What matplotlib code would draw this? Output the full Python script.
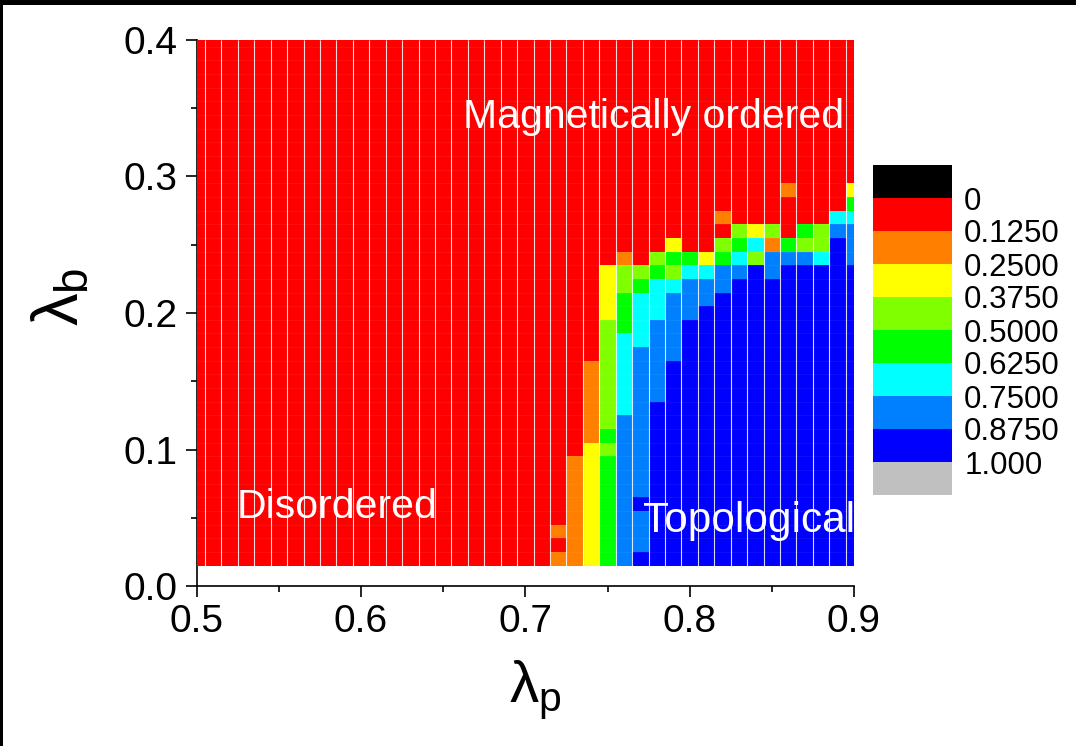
import numpy as np
import matplotlib
matplotlib.use("Agg")
import matplotlib.pyplot as plt
from matplotlib.colors import ListedColormap, BoundaryNorm
from matplotlib.patches import Rectangle
from matplotlib.ticker import MultipleLocator, FormatStrFormatter

plt.rcParams['font.family'] = ['Liberation Sans', 'DejaVu Sans']
plt.rcParams['mathtext.fontset'] = 'custom'
plt.rcParams['mathtext.rm'] = 'Liberation Sans'
plt.rcParams['mathtext.it'] = 'Liberation Sans'
plt.rcParams['mathtext.bf'] = 'Liberation Sans:bold'

# grid of the phase diagram
lambda_p = [0.50, 0.51, 0.52, 0.53, 0.54, 0.55, 0.56, 0.57, 0.58, 0.59,
            0.60, 0.61, 0.62, 0.63, 0.64, 0.65, 0.66, 0.67, 0.68, 0.69,
            0.70, 0.71, 0.72, 0.73, 0.74, 0.75, 0.76, 0.77, 0.78, 0.79,
            0.80, 0.81, 0.82, 0.83, 0.84, 0.85, 0.86, 0.87, 0.88, 0.89, 0.90]
lambda_b = [0.02, 0.03, 0.04, 0.05, 0.06, 0.07, 0.08, 0.09, 0.10, 0.11,
            0.12, 0.13, 0.14, 0.15, 0.16, 0.17, 0.18, 0.19, 0.20, 0.21,
            0.22, 0.23, 0.24, 0.25, 0.26, 0.27, 0.28, 0.29, 0.30, 0.31,
            0.32, 0.33, 0.34, 0.35, 0.36, 0.37, 0.38, 0.39, 0.40]

# colour scale
levels = [0.0, 0.125, 0.25, 0.375, 0.5, 0.625, 0.75, 0.875, 1.0]
level_labels = ['0', '0.1250', '0.2500', '0.3750', '0.5000',
                '0.6250', '0.7500', '0.8750', '1.000']
band_colors = ['#ff0000', '#ff8000', '#ffff00', '#80ff00', '#00ff00',
               '#00ffff', '#0080ff', '#0000ff']
# representative value of each colour band (red ... blue)
band_values = [0.0625, 0.1875, 0.3125, 0.4375, 0.5625, 0.6875, 0.8125, 0.9375]

# columns lambda_p = 0.50 ... 0.71 are ordered (band 0) at every lambda_b.
# For lambda_p = 0.72 ... 0.90: runs of (band, number of rows) from the
# bottom row upward; rows above the listed runs are band 0.
transition_start = 0.72
transition_runs = [
    [(1, 1), (0, 1), (1, 1)],                                   # 0.72
    [(1, 8)],                                                   # 0.73
    [(2, 9), (1, 6)],                                           # 0.74
    [(4, 8), (3, 1), (4, 1), (3, 8), (2, 4)],                   # 0.75
    [(6, 11), (5, 6), (4, 3), (3, 2), (1, 1)],                  # 0.76
    [(7, 1), (6, 3), (7, 1), (6, 11), (5, 4), (4, 1), (3, 1)],  # 0.77
    [(7, 12), (6, 6), (5, 3), (4, 1), (3, 1)],                  # 0.78
    [(7, 15), (6, 5), (5, 1), (3, 1), (4, 1), (2, 1)],          # 0.79
    [(7, 18), (6, 3), (5, 1), (4, 1)],                          # 0.80
    [(7, 19), (6, 2), (5, 1), (2, 1)],                          # 0.81
    [(7, 20), (6, 2), (4, 1), (3, 1), (0, 1), (1, 1)],          # 0.82
    [(7, 21), (6, 1), (5, 1), (4, 1), (3, 1)],                  # 0.83
    [(7, 22), (3, 1), (5, 1), (2, 1)],                          # 0.84
    [(7, 21), (6, 2), (1, 1), (3, 1)],                          # 0.85
    [(7, 22), (6, 1), (4, 1), (0, 3), (1, 1)],                  # 0.86
    [(7, 22), (6, 1), (3, 1), (4, 1)],                          # 0.87
    [(7, 22), (5, 1), (3, 2)],                                  # 0.88
    [(7, 24), (6, 1), (5, 1)],                                  # 0.89
    [(7, 22), (6, 3), (5, 1), (4, 1), (2, 1)],                  # 0.90
]

# assemble the value grid (rows: lambda_b, columns: lambda_p)
xp = np.array(lambda_p)
yb = np.array(lambda_b)
Z = np.full((len(yb), len(xp)), band_values[0])
first_col = int(np.argmin(np.abs(xp - transition_start)))
for j, runs in enumerate(transition_runs):
    row = 0
    for band, count in runs:
        Z[row:row + count, first_col + j] = band_values[band]
        row += count

x_edges = np.append(xp - 0.005, xp[-1] + 0.005)
y_edges = np.append(yb - 0.005, yb[-1] + 0.005)

cmap = ListedColormap(band_colors)
cmap.set_under('#000000')
cmap.set_over('#c0c0c0')
norm = BoundaryNorm(levels, cmap.N)

W, H = 1076, 746
fig = plt.figure(figsize=(W / 100, H / 100), dpi=100)
ax = fig.add_axes([196.7 / W, 1 - 586 / H, (854 - 196.7) / W, (586 - 40) / H])

mesh = ax.pcolormesh(x_edges, y_edges, Z, cmap=cmap, norm=norm,
                     shading='flat', zorder=3, edgecolors='none')
# thin white separators between columns
ax.vlines(x_edges[1:-1], y_edges[0], 0.4, colors='white', linewidth=0.8,
          alpha=0.85, zorder=4)
ax.hlines(y_edges[1:-1], 0.5, 0.9, colors='white', linewidth=0.5,
          alpha=0.08, zorder=4)

ax.set_xlim(0.5, 0.9)
ax.set_ylim(0.0, 0.4)
ax.xaxis.set_major_locator(MultipleLocator(0.1))
ax.xaxis.set_minor_locator(MultipleLocator(0.05))
ax.yaxis.set_major_locator(MultipleLocator(0.1))
ax.yaxis.set_minor_locator(MultipleLocator(0.05))
ax.xaxis.set_major_formatter(FormatStrFormatter('%.1f'))
ax.yaxis.set_major_formatter(FormatStrFormatter('%.1f'))
for s in ('top', 'right'):
    ax.spines[s].set_visible(False)
for s in ('left', 'bottom'):
    ax.spines[s].set_linewidth(1.2)
ax.tick_params(which='major', direction='out', length=8, width=1.2,
               labelsize=28, pad=5)
ax.tick_params(which='minor', direction='out', length=4.3, width=1.2)
ax.tick_params(axis='y', which='major', pad=6)

# region labels
ax.text(0.662, 0.3355, 'Magnetically ordered', color='white', fontsize=29.5,
        ha='left', va='baseline', zorder=6)
ax.text(0.5245, 0.0498, 'Disordered', color='white', fontsize=29.5,
        ha='left', va='baseline', zorder=6)
ax.text(0.7715, 0.0396, 'Topological', color='white', fontsize=30.5,
        ha='left', va='baseline', zorder=6)

# axis titles
fig.text(535 / W, 1 - 702 / H, r'$\lambda_\mathrm{p}$', fontsize=42,
         ha='center', va='baseline')
fig.text(61 / W, 1 - 297 / H, r'$\lambda_\mathrm{b}$', fontsize=47,
         ha='center', va='center', rotation=90)

# colour bar (0 at the top)
cax = fig.add_axes([872.7 / W, 1 - 495 / H, 79 / W, 330 / H])
cbar = fig.colorbar(mesh, cax=cax, extend='both', extendrect=True,
                    extendfrac=0.125, ticks=levels)
cax.invert_yaxis()
cbar.outline.set_visible(False)
cbar.set_ticklabels(level_labels)
cax.tick_params(length=0, labelsize=22.5, pad=9)

# dark frame strips along the top and left edges
fig.patches.append(Rectangle((0, 1 - 5 / H), 1, 5 / H, transform=fig.transFigure,
                             facecolor='black', edgecolor='none', zorder=10))
fig.patches.append(Rectangle((0, 0), 3 / W, 1, transform=fig.transFigure,
                             facecolor='black', edgecolor='none', zorder=10))

fig.savefig('out.png', dpi=100)
